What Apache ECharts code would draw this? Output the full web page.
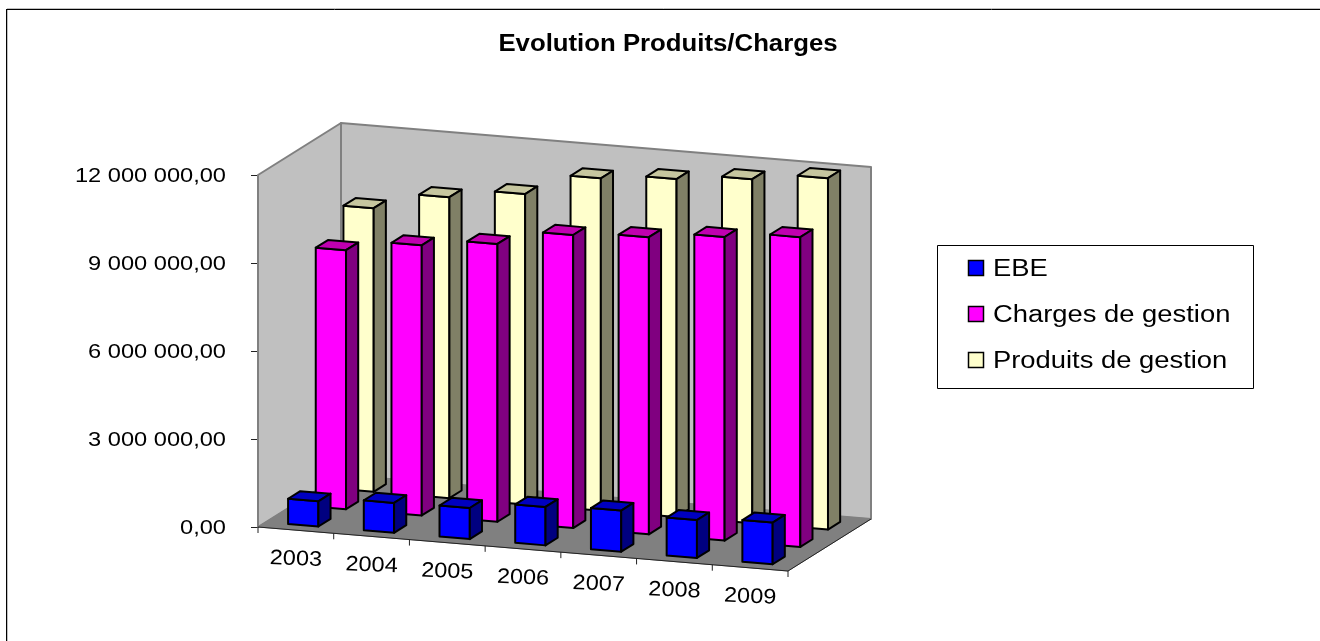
<!DOCTYPE html>
<html>
<head>
<meta charset="utf-8">
<title>Evolution Produits/Charges</title>
<style>
    html, body { margin: 0; padding: 0; background: #fff; }
    #main { width: 1320px; height: 641px; }
</style>
</head>
<body>
<div id="main"></div>
<script src="https://cdn.jsdelivr.net/npm/echarts@6/dist/echarts.min.js"></script>
<script>
    var years = ['2003', '2004', '2005', '2006', '2007', '2008', '2009'];
    var ebe = [860000, 1020000, 1060000, 1310000, 1400000, 1290000, 1420000];
    var charges = [8830000, 9210000, 9470000, 9990000, 10130000, 10350000, 10560000];
    var produits = [9670000, 10260000, 10580000, 11330000, 11520000, 11730000, 11980000];
    var yTicks = [0, 3000000, 6000000, 9000000, 12000000];
    var yTickLabels = ['0,00', '3 000 000,00', '6 000 000,00', '9 000 000,00', '12 000 000,00'];
    var legendNames = ['EBE', 'Charges de gestion', 'Produits de gestion'];

    // the 3d look: a shear added on top of the grid's own scales
    var SLOPE = 44 / 7;      // floor drop per category
    var ROW_DX = 83 / 3;     // shift per series row, going backwards
    var ROW_DY = -52 / 3;
    var ROWS = 3;

    function project(api, t, row, v) {
        var p = api.coord([t, v]);
        return [p[0] + row * ROW_DX, p[1] + t * SLOPE + row * ROW_DY];
    }

    function poly(points, fill, stroke, lineWidth) {
        return {
            type: 'polygon',
            shape: { points: points },
            style: { fill: fill, stroke: stroke, lineWidth: lineWidth, lineJoin: 'round' }
        };
    }

    function label(x, y, text, size, align, rotation, scaleX, weight) {
        return {
            type: 'text',
            x: x,
            y: y,
            rotation: rotation || 0,
            scaleX: scaleX,
            style: {
                text: text,
                fill: '#000',
                font: (weight || 'normal') + ' ' + size + 'px "Liberation Sans"',
                textAlign: align,
                textVerticalAlign: 'middle'
            }
        };
    }

    function wallsItem(params, api) {
        var n = years.length;
        var top = yTicks[yTicks.length - 1];
        var a = project(api, 0, 0, 0), b = project(api, 0, 0, top);
        var c = project(api, 0, ROWS, top), d = project(api, 0, ROWS, 0);
        var e = project(api, n, ROWS, top), f = project(api, n, ROWS, 0);
        var g = project(api, n, 0, 0);
        return {
            type: 'group',
            children: [
                poly([a, b, c, d], '#c0c0c0', '#808080', 2),
                poly([d, c, e, f], '#c0c0c0', '#808080', 2),
                poly([a, d, f, g], '#808080', '#808080', 1),
                { type: 'line', shape: { x1: a[0], y1: a[1], x2: g[0], y2: g[1] }, style: { stroke: '#222', lineWidth: 1 } },
                { type: 'line', shape: { x1: g[0], y1: g[1], x2: f[0], y2: f[1] }, style: { stroke: '#222', lineWidth: 1 } }
            ]
        };
    }

    function barItem(row, front, topFace, side) {
        return function (params, api) {
            var t = api.value(0) + 0.295;
            var v = api.value(1);
            var w = 0.4;
            var r0 = row + 0.28, r1 = row + 0.72;
            var a = project(api, t, r0, 0);
            var b = project(api, t, r0, v);
            var c = project(api, t + w, r0, v);
            var d = project(api, t + w, r0, 0);
            var e = project(api, t, r1, v);
            var f = project(api, t + w, r1, v);
            var g = project(api, t + w, r1, 0);
            return {
                type: 'group',
                children: [
                    poly([a, b, c, d], front, '#000', 2),
                    poly([b, e, f, c], topFace, '#000', 2),
                    poly([d, c, f, g], side, '#000', 2)
                ]
            };
        };
    }

    function xLabelItem(params, api) {
        var i = api.value(0);
        var tick = project(api, i, 0, 0);
        var tickEnd = project(api, i + 1, 0, 0);
        var mid = project(api, i + 0.5, 0, 0);
        var children = [
            { type: 'line', shape: { x1: tick[0], y1: tick[1], x2: tick[0], y2: tick[1] + 6 }, style: { stroke: '#222', lineWidth: 1 } },
            label(mid[0], mid[1] + 29, years[i], 21, 'center', -0.04, 1.12)
        ];
        if (i === years.length - 1) {
            children.push({ type: 'line', shape: { x1: tickEnd[0], y1: tickEnd[1], x2: tickEnd[0], y2: tickEnd[1] + 6 }, style: { stroke: '#222', lineWidth: 1 } });
        }
        return { type: 'group', children: children };
    }

    function yLabelItem(params, api) {
        var p = api.coord([0, api.value(1)]);
        return label(p[0] - 32, p[1] + 1, yTickLabels[params.dataIndex], 21, 'right', 0, 1.125);
    }

    function pairs(values) {
        return values.map(function (v, i) { return [i, v]; });
    }

    var legendY = [268, 314, 360];
    var legendFill = ['#0000ff', '#ff00ff', '#ffffcc'];

    // the outer frame is only visible on the top and left, the rest is cut off
    var graphicItems = [
        { type: 'line', shape: { x1: 7, y1: 8.5, x2: 1320, y2: 8.5 }, style: { stroke: '#c0c0c0', lineWidth: 1 } },
        { type: 'line', shape: { x1: 7.5, y1: 9, x2: 7.5, y2: 641 }, style: { stroke: '#c0c0c0', lineWidth: 1 } },
        { type: 'line', shape: { x1: 6, y1: 9.5, x2: 1320, y2: 9.5 }, style: { stroke: '#000', lineWidth: 1 } },
        { type: 'line', shape: { x1: 6.5, y1: 9, x2: 6.5, y2: 641 }, style: { stroke: '#000', lineWidth: 1 } },
        { type: 'rect', shape: { x: 937.5, y: 245.5, width: 316, height: 143 }, style: { fill: '#fff', stroke: '#000', lineWidth: 1 } },
        { type: 'text', x: 668, y: 45, scaleX: 1.12, style: { text: 'Evolution Produits/Charges', fill: '#000', font: 'bold 23px "Liberation Sans"', textAlign: 'center', textVerticalAlign: 'middle' } }
    ];
    legendNames.forEach(function (name, i) {
        graphicItems.push({ type: 'rect', shape: { x: 968.5, y: legendY[i] - 7.5, width: 15, height: 15 }, style: { fill: legendFill[i], stroke: '#000', lineWidth: 1.5 } });
        graphicItems.push({ type: 'text', x: 993, y: legendY[i] + 2, scaleX: 1.19, style: { text: name, fill: '#000', font: '23px "Liberation Sans"', textAlign: 'left', textVerticalAlign: 'middle' } });
    });

    var myChart = echarts.init(document.getElementById('main'), null, { renderer: 'canvas' });
    var option = {
        backgroundColor: '#fff',
        animation: false,
        graphic: { elements: graphicItems },
        grid: { left: 258, top: 175, width: 530, height: 352 },
        xAxis: { type: 'value', min: 0, max: years.length, show: false },
        yAxis: {
            type: 'value',
            min: 0,
            max: 12000000,
            interval: 3000000,
            splitLine: { show: false },
            axisLabel: { show: false },
            axisLine: { show: true, lineStyle: { color: '#333', width: 1 } },
            axisTick: { show: true, length: 7, lineStyle: { color: '#222', width: 1 } }
        },
        series: [
            { type: 'custom', name: 'walls', renderItem: wallsItem, data: [[0, 0]], z: 1, silent: true },
            { type: 'custom', name: legendNames[2], renderItem: barItem(2, '#ffffcc', '#c6c69f', '#808066'), data: pairs(produits), z: 2 },
            { type: 'custom', name: legendNames[1], renderItem: barItem(1, '#ff00ff', '#c000b0', '#800080'), data: pairs(charges), z: 3 },
            { type: 'custom', name: legendNames[0], renderItem: barItem(0, '#0000ff', '#0000c0', '#000080'), data: pairs(ebe), z: 4 },
            { type: 'custom', name: 'years', renderItem: xLabelItem, data: pairs(years.map(function () { return 0; })), z: 5, silent: true },
            { type: 'custom', name: 'ticks', renderItem: yLabelItem, data: pairs(yTicks), z: 5, silent: true }
        ]
    };
    myChart.setOption(option);
</script>
</body>
</html>
